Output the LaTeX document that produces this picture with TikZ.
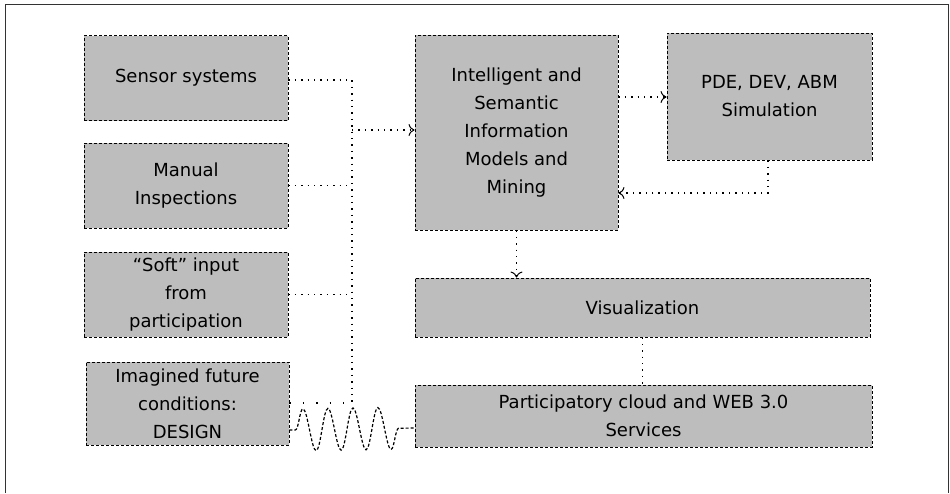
\documentclass[tikz,border=0pt]{standalone}
\usepackage{fontspec}
\setmainfont{DejaVu Sans}
\usetikzlibrary{arrows.meta,decorations.pathmorphing}
\tikzset{
  box/.style={draw=black, densely dashed, line width=0.9pt, fill=black!26,
    align=center, inner sep=2pt, font=\fontsize{18}{28}\selectfont},
  link/.style={draw=black, line width=1.4pt, dash pattern=on 1.4pt off 5pt},
  arr/.style={link, -{To[length=6pt,width=12pt,line width=1pt]}},
}
\begin{document}
\begin{tikzpicture}[x=1pt,y=-1pt]
\useasboundingbox (0,0) rectangle (950,493);
\draw[black!80, line width=1pt] (5,493) -- (5,4) -- (948,4) -- (948,493);

\node[box, minimum width=204pt, minimum height=85pt] (sensor) at (186,78) {Sensor systems};
\node[box, minimum width=204pt, minimum height=85pt] (manual) at (186,185.5) {Manual\\Inspections};
\node[box, minimum width=204pt, minimum height=85pt] (soft) at (186,294.5) {“Soft” input\\from\\participation};
\node[box, minimum width=203pt, minimum height=83pt] (imag) at (187.5,403.5) {Imagined future\\conditions:\\DESIGN};
\node[box, minimum width=203pt, minimum height=195pt] (intel) at (516.5,132.5) {Intelligent and\\Semantic\\Information\\Models and\\Mining};
\node[box, minimum width=205pt, minimum height=127pt] (pde) at (769.5,96.5) {PDE, DEV, ABM\\Simulation};
\node[box, minimum width=455pt, minimum height=59pt] (vis) at (642.5,307.5) {Visualization};
\node[box, minimum width=457pt, minimum height=62pt] (part) at (643.5,416) {Participatory cloud and WEB 3.0\\Services};

\coordinate (bustop) at (352,80);
\coordinate (busbot) at (352,403);
\coordinate (busout) at (352,130);

\draw[link] (sensor.east |- bustop) -- (bustop) -- (busbot);
\draw[link] (manual.east) -- (manual.east -| bustop);
\draw[link] (soft.east) -- (soft.east -| bustop);
\draw[link, dash pattern=on 1.4pt off 12pt] (imag.east |- busbot) -- (busbot);
\draw[arr] (busout) -- (busout -| intel.west);

\draw[arr] (intel.east |- 0,97) -- (pde.west |- 0,97);
\coordinate (pdeturn) at (768,193);
\draw[arr] (pde.south -| pdeturn) -- (pdeturn) -- (pdeturn -| intel.east);
\draw[arr] (intel.south) -- (vis.north -| intel.south);
\draw[link] (vis.south) -- (part.north -| vis.south);

\draw[line width=1.2pt, densely dashed, decorate, decoration={snake, amplitude=21pt, segment length=25pt, pre length=6pt, post length=5pt}] (imag.east |- 0,430) -- (part.west |- 0,428);
\end{tikzpicture}
\end{document}
